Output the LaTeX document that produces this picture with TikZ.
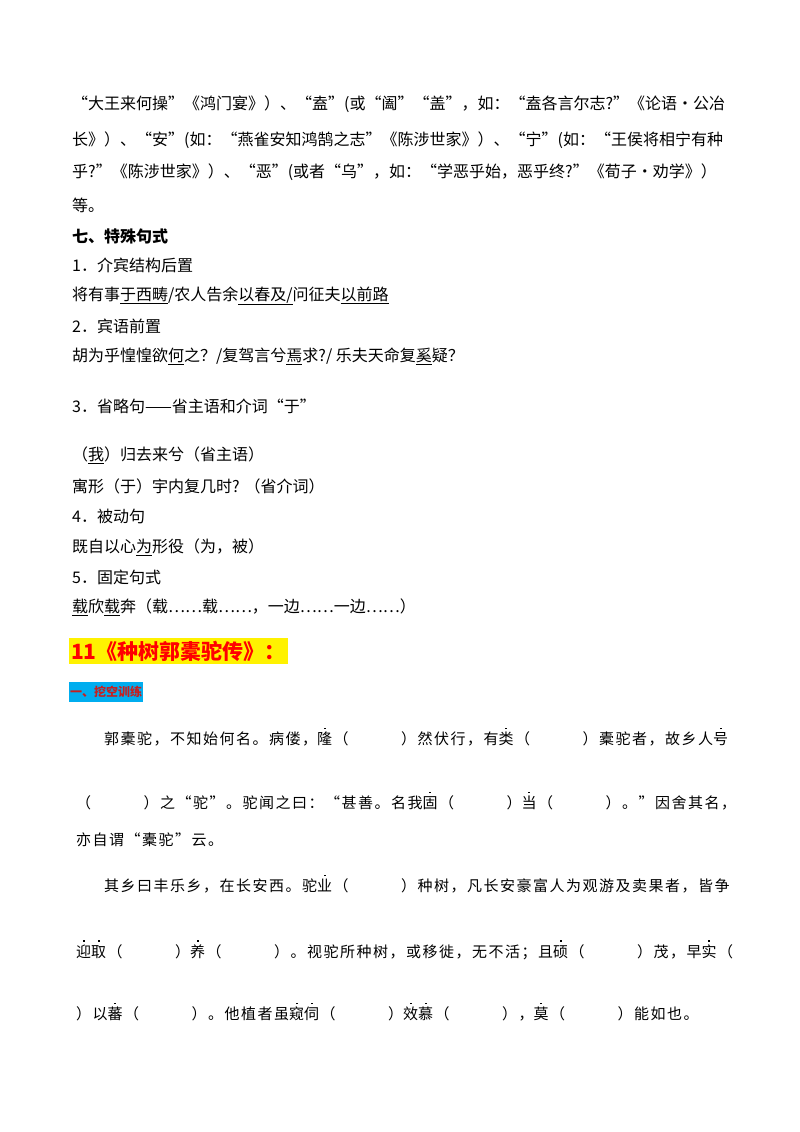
\documentclass[tikz,border=0pt]{standalone}
\usepackage{fontspec}
\setmainfont{Noto Sans CJK SC}
\newcommand\emd[1]{\rlap{\hbox to 1em{\hfil\raisebox{1.05em}{\rule{1.6pt}{1.6pt}}\hfil}}#1}
\newcommand\bl{\hspace{3.5em}}
\tikzset{ln/.style={anchor=west,inner sep=0pt,font=\fontsize{16}{16}\selectfont},
 lo/.style={anchor=west,inner sep=0pt,font=\fontsize{15}{15}\selectfont\addfontfeature{LetterSpace=10}}}
\begin{document}
\begin{tikzpicture}[x=1pt,y=-1pt]
\useasboundingbox (0,0) rectangle (800,1132);
\node[ln] (l1) at (72,104) {“大王来何操”《鸿门宴》）、“盍”(或“阖”“盖”，如：“盍各言尔志?”《论语·公冶};
\node[ln] (l2) at (72,140) {长》）、“安”(如：“燕雀安知鸿鹄之志”《陈涉世家》）、“宁”(如：“王侯将相宁有种};
\node[ln] (l3) at (72,172) {乎?”《陈涉世家》）、“恶”(或者“乌”，如：“学恶乎始，恶乎终?”《荀子·劝学》）};
\node[ln] (l4) at (72,205) {等。};
\node[ln,font=\fontsize{16}{16}\selectfont\bfseries] (h7) at (72,236) {七、特殊句式};
\node[ln] (a1) at (72,265) {1．介宾结构后置};
\node[ln] (a2) at (72,296) {将有事\underline{于西畴}/农人告余\underline{以春及/}问征夫\underline{以前路}};
\node[ln] (a3) at (72,326) {2．宾语前置};
\node[ln] (a4) at (72,356) {胡为乎惶惶欲\underline{何}之？/复驾言兮\underline{焉}求?/ 乐夫天命复\underline{奚}疑？};
\node[ln] (a5) at (72,406) {3．省略句——省主语和介词“于”};
\node[ln] (a6) at (72,455) {（\underline{我}）归去来兮（省主语）};
\node[ln] (a7) at (72,486) {寓形（于）宇内复几时? （省介词）};
\node[ln] (a8) at (72,516) {4．被动句};
\node[ln] (a9) at (72,547) {既自以心\underline{为}形役（为，被）};
\node[ln] (a10) at (72,577) {5．固定句式};
\node[ln] (a11) at (72,607) {\underline{载}欣\underline{载}奔（载……载……，一边……一边……）};
\node[anchor=west,fill=yellow,text=red,inner xsep=2pt,inner ysep=3pt,font=\fontsize{21}{21}\selectfont\bfseries] (t) at (69,651) {11《种树郭橐驼传》：};
\node[anchor=west,fill=cyan,text={rgb,255:red,200;green,30;blue,30},inner xsep=1pt,inner ysep=4pt,font=\fontsize{12}{12}\selectfont\bfseries] (s) at (69,692) {一、挖空训练};
\node[lo] (b1) at (104,737) {郭橐驼，不知始何名。病偻，\emd{隆}（\bl）然伏行，有\emd{类}（\bl）橐驼者，故乡人\emd{号}};
\node[lo] (b2) at (76,801) {（\bl）之“驼”。驼闻之曰：“甚善。名我\emd{固}（\bl）\emd{当}（\bl）。”因舍其名，};
\node[lo] (b3) at (76,840) {亦自谓“橐驼”云。};
\node[lo] (b4) at (104,884) {其乡曰丰乐乡，在长安西。驼\emd{业}（\bl）种树，凡长安豪富人为观游及卖果者，皆争};
\node[lo] (b5) at (76,950) {\emd{迎}\emd{取}（\bl）\emd{养}（\bl）。视驼所种树，或移徙，无不活；且\emd{硕}（\bl）茂，早\emd{实}（};
\node[lo] (b6) at (76,1012) {）以\emd{蕃}（\bl）。他植者虽\emd{窥}\emd{伺}（\bl）\emd{效}\emd{慕}（\bl），\emd{莫}（\bl）能如也。};
\end{tikzpicture}
\end{document}
